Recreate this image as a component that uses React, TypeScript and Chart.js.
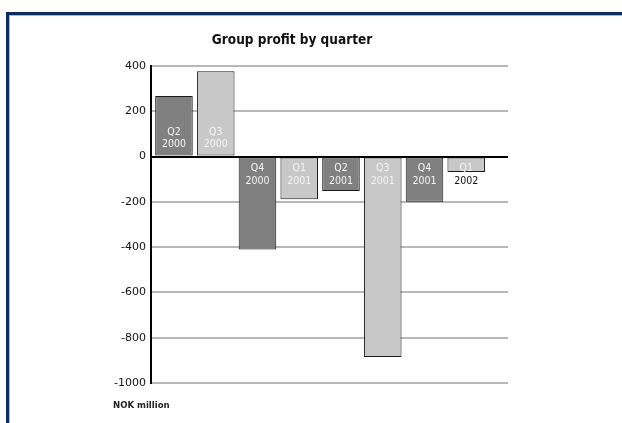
import React, { useEffect, useRef } from "react";
import { Chart, registerables } from "chart.js";

Chart.register(...registerables);

const categories = ["Q2 2000", "Q3 2000", "Q4 2000", "Q1 2001", "Q2 2001", "Q3 2001", "Q4 2001", "Q1 2002"];
const profitValues = [267, 377, -410, -188, -152, -885, -199, -68];
const barColors = ["#808080", "#c8c8c8", "#808080", "#c8c8c8", "#808080", "#c8c8c8", "#808080", "#c8c8c8"];
const yTicks = [400, 200, 0, -200, -400, -600, -800, -1000];
const chartTitle = "Group profit by quarter";
const unitLabel = "NOK million";

export default function App() {
  const ref = useRef<HTMLCanvasElement | null>(null);

  useEffect(() => {
    if (!ref.current) return;

    const framePlugin = {
      id: "frame",
      beforeDraw(chart: any) {
        const ctx = chart.ctx;
        ctx.save();
        ctx.fillStyle = "#ffffff";
        ctx.fillRect(0, 0, chart.width, chart.height);
        ctx.fillStyle = "#0b2d63";
        ctx.fillRect(6, 12, chart.width - 6, 3);
        ctx.fillRect(6, 12, 3, chart.height - 12);
        ctx.fillStyle = "#a8b6cc";
        ctx.fillRect(9, 15, chart.width - 9, 1);
        ctx.fillRect(9, 15, 1, chart.height - 15);
        ctx.restore();
      },
      afterDraw(chart: any) {
        const ctx = chart.ctx;
        ctx.save();
        ctx.fillStyle = "#111";
        ctx.textAlign = "center";
        ctx.textBaseline = "middle";
        ctx.font = 'bold 13.5px "DejaVu Sans Condensed"';
        ctx.fillText(chartTitle, 292, 40);
        ctx.textAlign = "left";
        ctx.font = 'bold 9.5px "DejaVu Sans Condensed"';
        ctx.fillStyle = "#222";
        ctx.fillText(unitLabel, 113, 406);
        ctx.restore();
      },
    };

    const labelPlugin = {
      id: "barLabels",
      afterDatasetsDraw(chart: any) {
        const ctx = chart.ctx;
        const meta = chart.getDatasetMeta(0);
        ctx.save();
        ctx.font = '10.5px "DejaVu Sans Condensed"';
        ctx.textAlign = "center";
        ctx.textBaseline = "middle";
        meta.data.forEach((el: any, i: number) => {
          const lines = categories[i].split(" ");
          const base = el.base;
          const top = Math.min(el.y, base);
          const bottom = Math.max(el.y, base);
          const positive = profitValues[i] >= 0;
          const ys = positive ? [base - 23.5, base - 11] : [base + 11, base + 23.5];
          lines.forEach((t: string, k: number) => {
            const y = ys[k];
            const inside = y > top && y + 3 < bottom;
            ctx.fillStyle = inside ? "#f4f4f4" : "#111";
            ctx.fillText(t, el.x, y);
          });
        });
        ctx.restore();
      },
    };

    const chart = new Chart(ref.current, {
      type: "bar",
      data: {
        datasets: [
          {
            data: profitValues.map((v, i) => ({ x: i, y: v })),
            backgroundColor: barColors,
            borderColor: "#1a1a1a",
            borderWidth: 1,
            borderSkipped: false,
            barPercentage: 0.9,
            categoryPercentage: 1.0,
          },
        ],
      },
      options: {
        animation: false,
        responsive: false,
        layout: { padding: { left: 0, top: 66, right: 114, bottom: 40 } },
        plugins: { legend: { display: false }, tooltip: { enabled: false }, title: { display: false } },
        scales: {
          x: {
            type: "linear",
            min: -0.55,
            max: 8.0,
            offset: false,
            display: false,
          },
          y: {
            min: -1000,
            max: 400,
            afterFit(scale: any) {
              scale.width = 151;
            },
            afterBuildTicks(scale: any) {
              scale.ticks = yTicks.map((v) => ({ value: v }));
            },
            border: { display: true, color: "#000", width: 2 },
            grid: {
              drawTicks: false,
              color: (c: any) => (c.tick && c.tick.value === 0 ? "#000" : "#b8b8b8"),
              lineWidth: 2,
              z: 0,
            },
            ticks: {
              padding: 5,
              color: "#111",
              font: { family: "DejaVu Sans", size: 11 },
              callback: (v: any) => String(v),
            },
          },
        },
      },
      plugins: [framePlugin, labelPlugin],
    } as any);

    return () => chart.destroy();
  }, []);

  return (
    <div style={{ position: "fixed", left: 0, top: 0, width: 622, height: 423 }}>
      <canvas ref={ref} width={622} height={423} />
    </div>
  );
}
